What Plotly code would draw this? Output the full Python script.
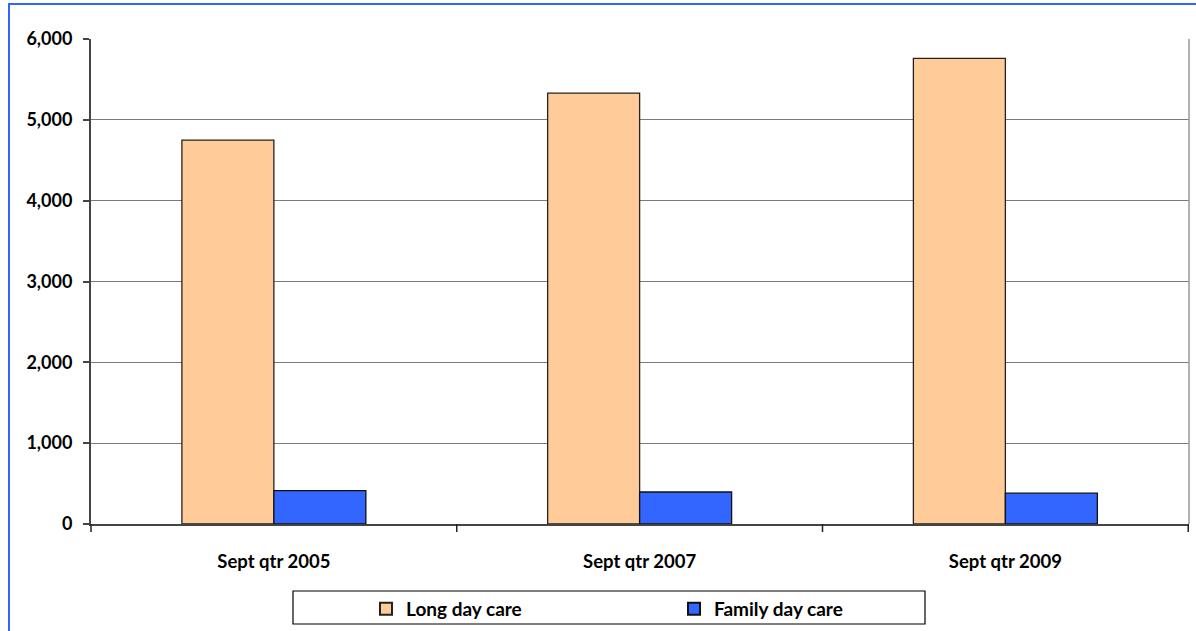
import plotly.graph_objects as go

categories = ["Sept qtr 2005", "Sept qtr 2007", "Sept qtr 2009"]
long_day_care = [4750, 5330, 5760]
family_day_care = [412, 396, 381]
y_ticks = [0, 1000, 2000, 3000, 4000, 5000, 6000]
y_tick_labels = ["0", "1,000", "2,000", "3,000", "4,000", "5,000", "6,000"]

W, H = 1196, 631
L, R, T, B = 91, 7, 39, 107
pw, ph = W - L - R, H - T - B

FAM = "Lato, Open Sans, sans-serif"
yfont = dict(family=FAM, size=18, color="#000000", weight="bold")
xfont = dict(family=FAM, size=18.5, color="#000000", weight="bold")


def px_x(p):
    return (p - L) / pw


def px_y(p):
    return (T + ph - p) / ph


fig = go.Figure()
fig.add_trace(go.Bar(name="Long day care", x=categories, y=long_day_care,
                     marker=dict(color="#FFCC99", line=dict(color="#222222", width=1.3))))
fig.add_trace(go.Bar(name="Family day care", x=categories, y=family_day_care,
                     marker=dict(color="#3366FF", line=dict(color="#111111", width=1.3))))

fig.update_layout(
    width=W, height=H,
    margin=dict(l=L, r=R, t=T, b=B, autoexpand=False),
    paper_bgcolor="white", plot_bgcolor="white",
    barmode="group", bargap=0.497, bargroupgap=0,
    font=yfont,
    showlegend=True,
    legend=dict(orientation="h", x=px_x(366), y=px_y(609),
                xanchor="left", yanchor="middle",
                borderwidth=0, bgcolor="rgba(0,0,0,0)",
                entrywidth=263, entrywidthmode="pixels",
                font=dict(family=FAM, size=19, color="#000000", weight="bold"),
                itemsizing="constant"),
    xaxis=dict(showgrid=False, showline=True, linecolor="#444444", linewidth=2,
               ticks="", tickfont=xfont, ticklabelstandoff=20),
    yaxis=dict(range=[0, 6000], tickvals=y_ticks, ticktext=y_tick_labels,
               showgrid=True, gridcolor="#7a7a7a", gridwidth=1.2,
               showline=True, linecolor="#444444", linewidth=2,
               ticks="outside", ticklen=6, tickcolor="#444444", tickwidth=1.5,
               tickfont=yfont, ticklabelstandoff=7, zeroline=False),
)

# tick marks between categories on x axis
for xv in [0.5, 1.5, 2.5]:
    fig.add_shape(type="line", xref="x", yref="paper", x0=xv, x1=xv, y0=0, y1=-8 / ph,
                  line=dict(color="#222222", width=1.5))
fig.add_shape(type="line", xref="paper", yref="paper", x0=0, x1=0, y0=0, y1=-8 / ph,
              line=dict(color="#222222", width=1.5))
# right border of plot area
fig.add_shape(type="line", xref="paper", yref="paper", x0=1, x1=1, y0=0, y1=1,
              line=dict(color="#999999", width=1.5))
# legend frame
fig.add_shape(type="rect", xref="paper", yref="paper",
              x0=px_x(293), x1=px_x(925), y0=px_y(624), y1=px_y(591),
              line=dict(color="#000000", width=1.2))
# outer blue chart border (partially cropped)
fig.add_shape(type="rect", xref="paper", yref="paper",
              x0=px_x(9), x1=1.05, y0=-0.5, y1=px_y(4),
              line=dict(color="#3366FF", width=2), layer="below")

fig.write_html("out.html", config={"displayModeBar": False},
               post_script="document.body.style.margin='0';document.body.style.overflow='hidden';")
